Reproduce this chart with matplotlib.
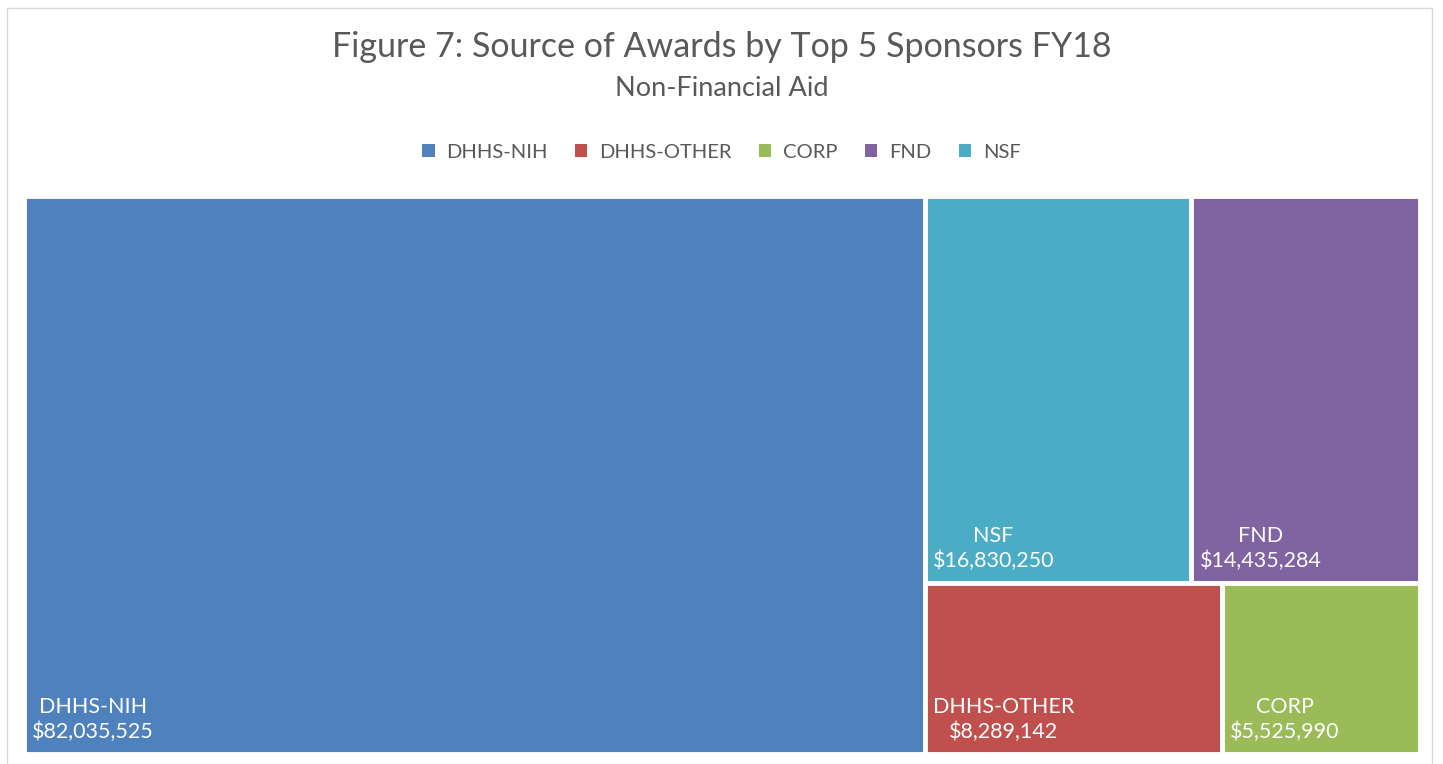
import matplotlib.pyplot as plt
from matplotlib.patches import Rectangle, Patch

plt.rcParams['font.family'] = ['Lato', 'DejaVu Sans']

sponsors = ['DHHS-NIH', 'DHHS-OTHER', 'CORP', 'FND', 'NSF']
awards = [82035525, 8289142, 5525990, 14435284, 16830250]
colors = ['#4F81BD', '#C0504D', '#9BBB59', '#8064A2', '#4BACC6']

# treemap blocks: the biggest one alone, then two rows for the rest
big = ['DHHS-NIH']
top_row = ['NSF', 'FND']
bottom_row = ['DHHS-OTHER', 'CORP']

val = dict(zip(sponsors, awards))
col = dict(zip(sponsors, colors))

W, H = 1396.0, 558.0
total = sum(awards)


def layout():
    rects = {}
    big_w = W * sum(val[s] for s in big) / total
    rects['DHHS-NIH'] = (0, 0, big_w, H)
    rest = total - val['DHHS-NIH']
    rest_w = W - big_w
    top_h = H * sum(val[s] for s in top_row) / rest
    x = big_w
    tsum = sum(val[s] for s in top_row)
    for s in top_row:
        w = rest_w * val[s] / tsum
        rects[s] = (x, H - top_h, w, top_h)
        x += w
    x = big_w
    bsum = sum(val[s] for s in bottom_row)
    for s in bottom_row:
        w = rest_w * val[s] / bsum
        rects[s] = (x, 0, w, H - top_h)
        x += w
    return rects


fig = plt.figure(figsize=(14.43, 7.64), dpi=100)
fig.patches.append(Rectangle((7 / 1443, -0.01), 1425 / 1443, 1.0, transform=fig.transFigure,
                             fill=False, edgecolor='#d9d9d9', linewidth=1))

ax = fig.add_axes([24 / 1443, 10 / 764, W / 1443, H / 764])
ax.set_xlim(0, W)
ax.set_ylim(0, H)
ax.axis('off')

for s, (x, y, w, h) in layout().items():
    ax.add_patch(Rectangle((x, y), w, h, facecolor=col[s], edgecolor='white', linewidth=3.5))
    ax.text(x + 8, y + 12, s + '\n' + '${:,}'.format(val[s]), color='white', fontsize=15.5,
            ha='left', va='bottom', multialignment='center', linespacing=1.3)

fig.text(0.5, 0.938, 'Figure 7: Source of Awards by Top 5 Sponsors FY18', ha='center', va='center',
         fontsize=24.5, color='#595959')
fig.text(0.5, 0.884, 'Non-Financial Aid', ha='center', va='center', fontsize=19.5, color='#595959')

handles = [Patch(facecolor=c, label=s) for s, c in zip(sponsors, colors)]
fig.legend(handles=handles, loc='center', bbox_to_anchor=(0.5, 0.801), ncol=5, frameon=False,
           fontsize=14.5, labelcolor='#595959', handlelength=0.6, handleheight=0.6,
           handletextpad=0.6, columnspacing=1.35)

fig.savefig('out.png', dpi=100)
